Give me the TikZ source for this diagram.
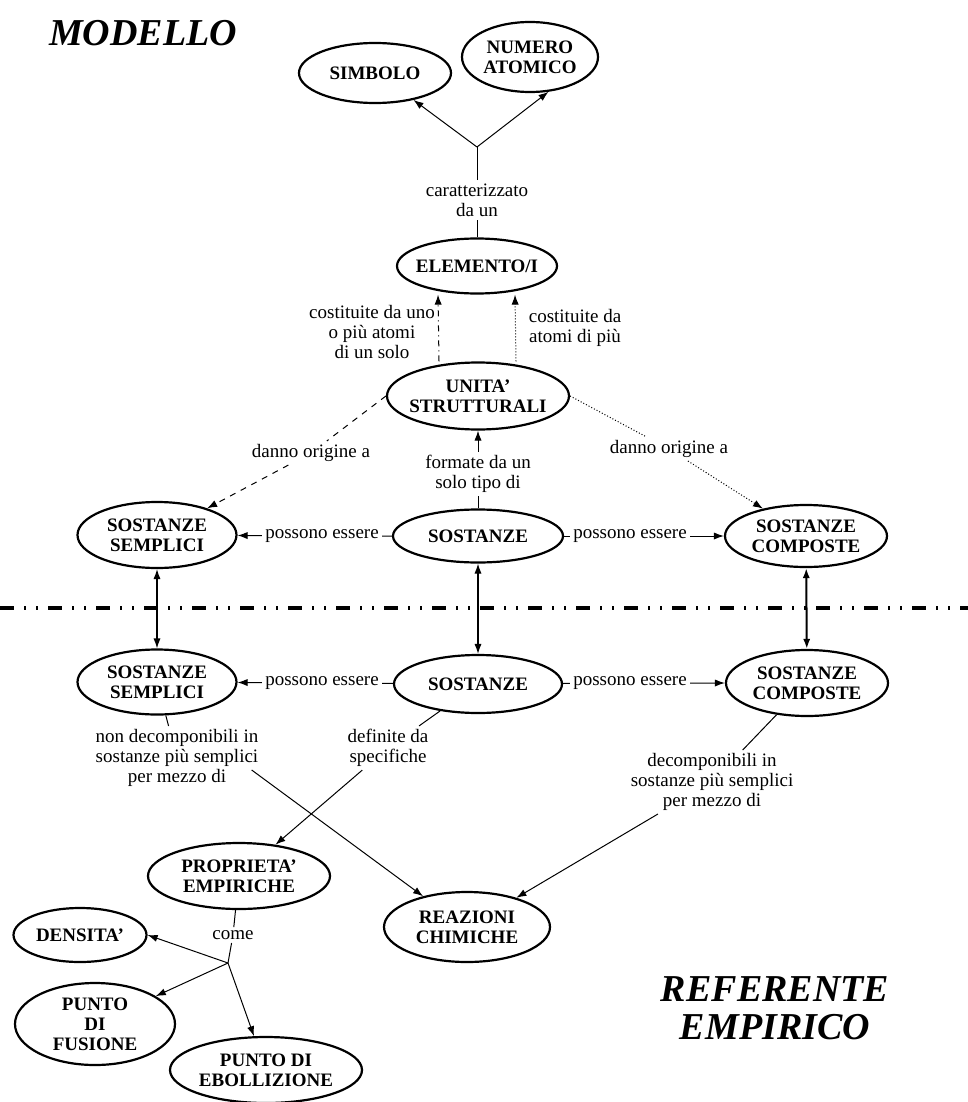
\documentclass[tikz,border=0pt]{standalone}
\usepackage{fontspec}
\setmainfont{Liberation Serif}
\usetikzlibrary{positioning,calc,shapes.geometric,arrows.meta}

\begin{document}
\begin{tikzpicture}
      [x=0.5pt,y=-0.5pt,
      >={Latex[length=5pt,width=3.6pt]},
      concetto/.style={ellipse,draw=black,line width=1.1pt,inner xsep=-12pt,inner ysep=-6pt,align=center,font=\fontsize{9.5}{10}\selectfont\bfseries},
      etichetta/.style={align=center,inner sep=1.5pt,font=\fontsize{9.5}{10}\selectfont},
      titolo/.style={align=center,font=\fontsize{19}{19}\selectfont\bfseries\itshape},
      freccia/.style={->,line width=0.5pt}]
     \useasboundingbox (0,0) rectangle (968,1102);
     \node[titolo] (modello) at (143,33) {MODELLO};
     \node[titolo] (referente) at (775,1008) {REFERENTE\\EMPIRICO};
     \node[concetto,minimum width=76pt,minimum height=30pt] (simbolo) at (375,73) {SIMBOLO};
     \node[concetto,minimum width=68pt,minimum height=35pt] (numero) at (530,57) {NUMERO\\ATOMICO};
     \coordinate (bivio) at (477,147);
     \node[etichetta] (caratt) at (477,200) {caratterizzato\\da un};
     \node[concetto,minimum width=80pt,minimum height=27.5pt] (elemento) at (477,266) {ELEMENTO/I};
     \node[concetto,minimum width=91pt,minimum height=33.5pt] (unita) at (478,396) {UNITA'\\STRUTTURALI};
     \node[etichetta] (costuno) at (372,332) {costituite da uno\\o più atomi\\di un solo};
     \node[etichetta] (costpiu) at (575,328) {costituite da\\atomi di più};
     \node[etichetta] (origine1) at (311,453) {danno origine a};
     \node[etichetta] (origine2) at (669,449) {danno origine a};
     \node[etichetta] (formate) at (478,474) {formate da un\\solo tipo di};
     \node[concetto,minimum width=79.5pt,minimum height=33pt] (semplici1) at (157,535) {SOSTANZE\\SEMPLICI};
     \node[concetto,minimum width=85pt,minimum height=26.5pt] (sostanze1) at (478,536) {SOSTANZE};
     \node[concetto,minimum width=81pt,minimum height=31pt] (composte1) at (806,536) {SOSTANZE\\COMPOSTE};
     \node[etichetta] (essere1) at (322,536) {possono essere};
     \node[etichetta] (essere2) at (630,536) {possono essere};
     \coordinate (sepsx) at (0,608);
     \coordinate (sepdx) at (968,608);
     \node[concetto,minimum width=79.5pt,minimum height=32.5pt] (semplici2) at (157,682) {SOSTANZE\\SEMPLICI};
     \node[concetto,minimum width=84pt,minimum height=29pt] (sostanze2) at (478,684) {SOSTANZE};
     \node[concetto,minimum width=81pt,minimum height=33pt] (composte2) at (807,683) {SOSTANZE\\COMPOSTE};
     \node[etichetta] (essere3) at (322,683) {possono essere};
     \node[etichetta] (essere4) at (630,683) {possono essere};
     \node[etichetta] (nondec) at (177,758) {non decomponibili in\\sostanze più semplici\\per mezzo di};
     \node[etichetta] (definite) at (388,748) {definite da\\specifiche};
     \node[etichetta] (decomp) at (712,782) {decomponibili in\\sostanze più semplici\\per mezzo di};
     \node[concetto,minimum width=91pt,minimum height=33pt] (proprieta) at (239,876) {PROPRIETA'\\EMPIRICHE};
     \node[concetto,minimum width=83pt,minimum height=35pt] (reazioni) at (467,927) {REAZIONI\\CHIMICHE};
     \node[etichetta] (come) at (233,935) {come};
     \coordinate (bivio2) at (228,963);
     \node[concetto,minimum width=66.5pt,minimum height=27pt] (densita) at (80,935) {DENSITA'};
     \node[concetto,minimum width=80pt,minimum height=41pt] (fusione) at (95,1024) {PUNTO\\DI\\FUSIONE};
     \node[concetto,minimum width=96pt,minimum height=33pt] (ebollizione) at (266,1070) {PUNTO DI\\EBOLLIZIONE};
     \draw[line width=0.5pt] (elemento) -- (caratt) -- (bivio);
     \draw[freccia] (bivio) -- (simbolo.-35);
     \draw[freccia] (bivio) -- (numero.-62);
     \draw[freccia,dash dot] ([xshift=-19.5pt]unita.north) -- ([xshift=-19.5pt]elemento.south);
     \draw[freccia,densely dotted] ([xshift=19pt]unita.north) -- ([xshift=19pt]elemento.south);
     \draw[freccia,dashed] (unita.west) -- (origine1) -- (semplici1);
     \draw[freccia,densely dotted] (unita.east) -- (origine2) -- (composte1);
     \draw[freccia] (sostanze1) -- (formate) -- (unita);
     \draw[freccia] (sostanze1) -- (essere1) -- (semplici1);
     \draw[freccia] (sostanze1) -- (essere2) -- (composte1);
     \draw[line width=1.6pt,dash pattern=on 7pt off 5pt on 1pt off 5pt on 1pt off 5pt] (sepsx) -- (sepdx);
     \draw[<->,line width=0.6pt] (semplici1) -- (semplici2);
     \draw[<->,line width=0.6pt] (sostanze1) -- (sostanze2);
     \draw[<->,line width=1pt] (composte1) -- (composte2);
     \draw[freccia] (sostanze2) -- (essere3) -- (semplici2);
     \draw[freccia] (sostanze2) -- (essere4) -- (composte2);
     \draw[line width=0.5pt] (semplici2) -- (nondec);
     \draw[freccia] ([xshift=-5pt,yshift=-6pt]nondec.east) -- (reazioni.145);
     \draw[freccia] (sostanze2) -- (definite) -- (proprieta);
     \draw[freccia] (composte2) -- (decomp) -- (reazioni);
     \draw[line width=0.5pt] (proprieta) -- (come) -- (bivio2);
     \draw[freccia] (bivio2) -- (densita.east);
     \draw[freccia] (bivio2) -- (fusione);
     \draw[freccia] (bivio2) -- (ebollizione);
    \end{tikzpicture}
\end{document}
